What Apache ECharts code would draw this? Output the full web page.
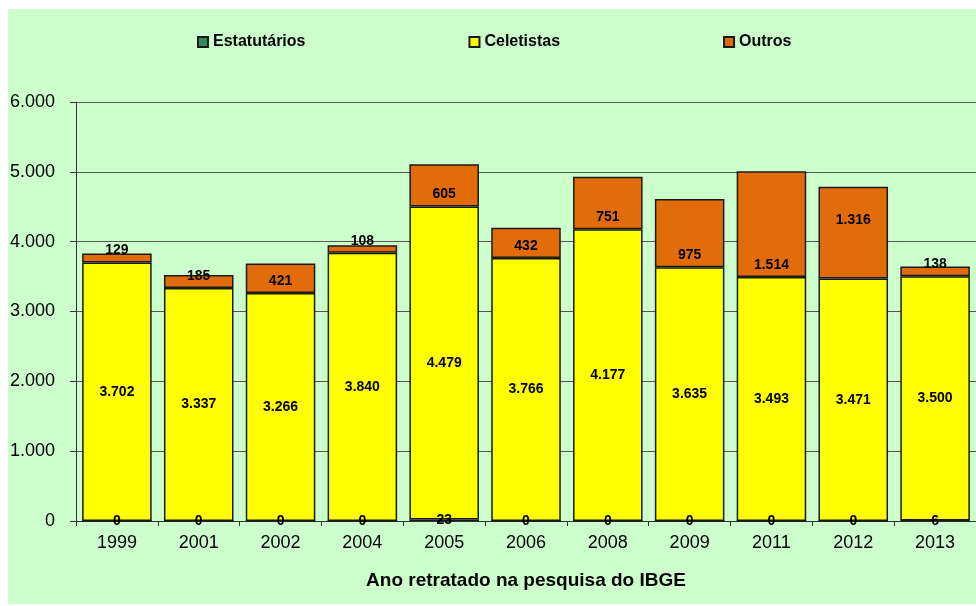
<!DOCTYPE html>
<html>
<head>
<meta charset="utf-8">
<script src="https://cdn.jsdelivr.net/npm/echarts@6/dist/echarts.min.js"></script>
<style>html,body{margin:0;padding:0;background:#fff;}#c{width:976px;height:606px;}</style>
</head>
<body>
<div id="c"></div>
<script>
const years = ['1999','2001','2002','2004','2005','2006','2008','2009','2011','2012','2013'];
const estatutarios = [0,0,0,0,23,0,0,0,0,0,6];
const celetistas = [3702,3337,3266,3840,4479,3766,4177,3635,3493,3471,3500];
const outros = [129,185,421,108,605,432,751,975,1514,1316,138];
const yTicks = [0,1000,2000,3000,4000,5000,6000];

function fmt(v){ return String(v).replace(/\B(?=(\d{3})+(?!\d))/g,'.'); }

const FF = 'Liberation Sans, Arial, sans-serif';
const chart = echarts.init(document.getElementById('c'));
const lbl = {show:true, color:'#000', fontWeight:'bold', fontSize:14, fontFamily:FF, formatter:p=>fmt(p.value)};
const border = {borderColor:'#1a1a1a', borderWidth:1.5};
const outrosData = outros.map((v,i)=> i===9 ? {value:v, label:{position:'inside', offset:[0,-13]}} : v);

chart.setOption({
  backgroundColor:'#fff',
  animation:false,
  graphic:[{type:'rect', left:8, top:9, shape:{width:970, height:595}, style:{fill:'#CCFFCC'}, z:-10, silent:true}],
  legend:{
    top:34, left:197, padding:0, itemGap:163, itemWidth:10, itemHeight:10, icon:'rect',
    textStyle:{fontSize:16, fontWeight:'bold', color:'#000', fontFamily:FF},
    data:['Estatutários','Celetistas','Outros']
  },
  grid:{left:76, top:102, bottom:85, width:913, containLabel:false},
  xAxis:{
    type:'category', data:years,
    name:'Ano retratado na pesquisa do IBGE', nameLocation:'middle', nameGap:50,
    nameTextStyle:{fontSize:19, fontWeight:'bold', color:'#000', fontFamily:FF},
    axisLine:{lineStyle:{color:'#333', width:1}},
    axisTick:{show:true, length:5, interval:0, alignWithLabel:false, lineStyle:{color:'#333'}},
    axisLabel:{fontSize:18, color:'#000', margin:13, interval:0, fontFamily:FF}
  },
  yAxis:{
    type:'value', min:0, max:6000, interval:1000,
    axisLine:{show:true, lineStyle:{color:'#333', width:1}},
    axisTick:{show:true, length:6, lineStyle:{color:'#333'}},
    axisLabel:{fontSize:18, color:'#000', margin:21, fontFamily:FF, formatter:v=> yTicks.includes(v)? fmt(v):''},
    splitLine:{show:true, lineStyle:{color:'#555', width:1}}
  },
  series:[
    {name:'Estatutários', type:'bar', stack:'s', data:estatutarios, barCategoryGap:'15%',
     itemStyle:Object.assign({color:'#2E8B57'}, border),
     label:Object.assign({position:'inside'}, lbl), z:3},
    {name:'Celetistas', type:'bar', stack:'s', data:celetistas,
     itemStyle:Object.assign({color:'#FFFF00'}, border),
     label:Object.assign({position:'inside'}, lbl)},
    {name:'Outros', type:'bar', stack:'s', data:outrosData,
     itemStyle:Object.assign({color:'#E36C0A'}, border),
     label:Object.assign({position:'insideBottom', distance:5}, lbl)}
  ]
});
</script>
</body>
</html>
